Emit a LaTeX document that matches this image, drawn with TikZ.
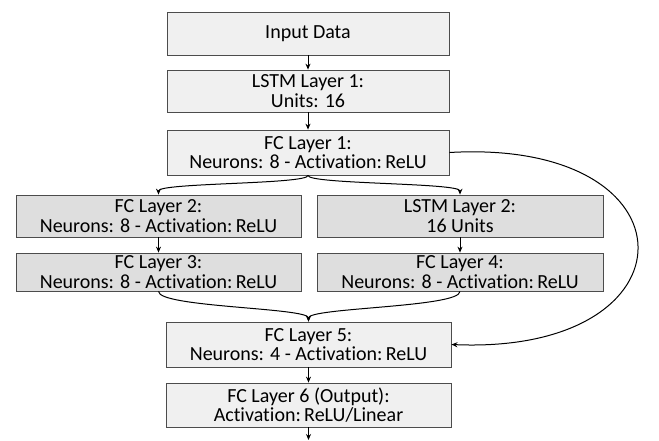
\documentclass[tikz,border=0pt]{standalone}
\usepackage{fontspec}
\setmainfont[Ligatures=NoCommon]{Carlito}
\usetikzlibrary{arrows.meta}
\begin{document}
\begin{tikzpicture}[x=1pt,y=-1pt,
  box/.style={draw=black!70,line width=0.8pt,fill=#1,inner sep=0pt,align=center,
    font=\fontsize{20}{19.5}\selectfont,text=black},
  box/.default={black!6},
  conn/.style={draw=black,line width=1pt,-{Stealth[length=6pt,width=5pt]}}]
\useasboundingbox (0,0) rectangle (659,440);
\node[box,minimum width=282pt,minimum height=43pt] (in) at (308,33.5) {Input Data};
\node[box,minimum width=282pt,minimum height=42pt] (l1) at (308,91) {LSTM Layer 1:\\Units: 16};
\node[box,minimum width=282pt,minimum height=45pt] (f1) at (308,152.5) {FC Layer 1:\\Neurons: 8 - Activation:\,ReLU};
\node[box=black!13,minimum width=285pt,minimum height=42pt] (f2) at (158.5,216) {FC Layer 2:\\Neurons: 8 - Activation:\,ReLU};
\node[box=black!13,minimum width=285pt,minimum height=38pt] (f3) at (158.5,272) {FC Layer 3:\\Neurons: 8 - Activation:\,ReLU};
\node[box=black!13,minimum width=286pt,minimum height=42pt] (l2) at (460,216) {LSTM Layer 2:\\16 Units};
\node[box=black!13,minimum width=286pt,minimum height=38pt] (f4) at (460,272) {FC Layer 4:\\Neurons: 8 - Activation:\,ReLU};
\node[box,minimum width=285pt,minimum height=45pt] (f5) at (308.5,344.5) {FC Layer 5:\\Neurons: 4 - Activation:\,ReLU};
\node[box,minimum width=285pt,minimum height=44pt] (f6) at (308.5,405) {FC Layer 6 (Output):\\Activation:\,ReLU/Linear};
\coordinate (out) at (308.5,440);
\draw[conn] (in) -- (l1);
\draw[conn] (l1) -- (f1);
\draw[conn] (f1.south) .. controls +(0,9) and +(0,-12) .. (f2.north);
\draw[conn] (f1.south) .. controls +(0,9) and +(0,-12) .. (l2.north);
\draw[conn] (f2) -- (f3);
\draw[conn] (l2) -- (f4);
\draw[conn] (f3.south) .. controls +(0,16) and +(0,-14) .. (f5.north);
\draw[conn] (f4.south) .. controls +(0,16) and +(0,-14) .. (f5.north);
\draw[conn] (f1.east) .. controls (700,138) and (700,355) .. (f5.east);
\draw[conn] (f5) -- (f6);
\draw[conn] (f6) -- (out);
\end{tikzpicture}
\end{document}
